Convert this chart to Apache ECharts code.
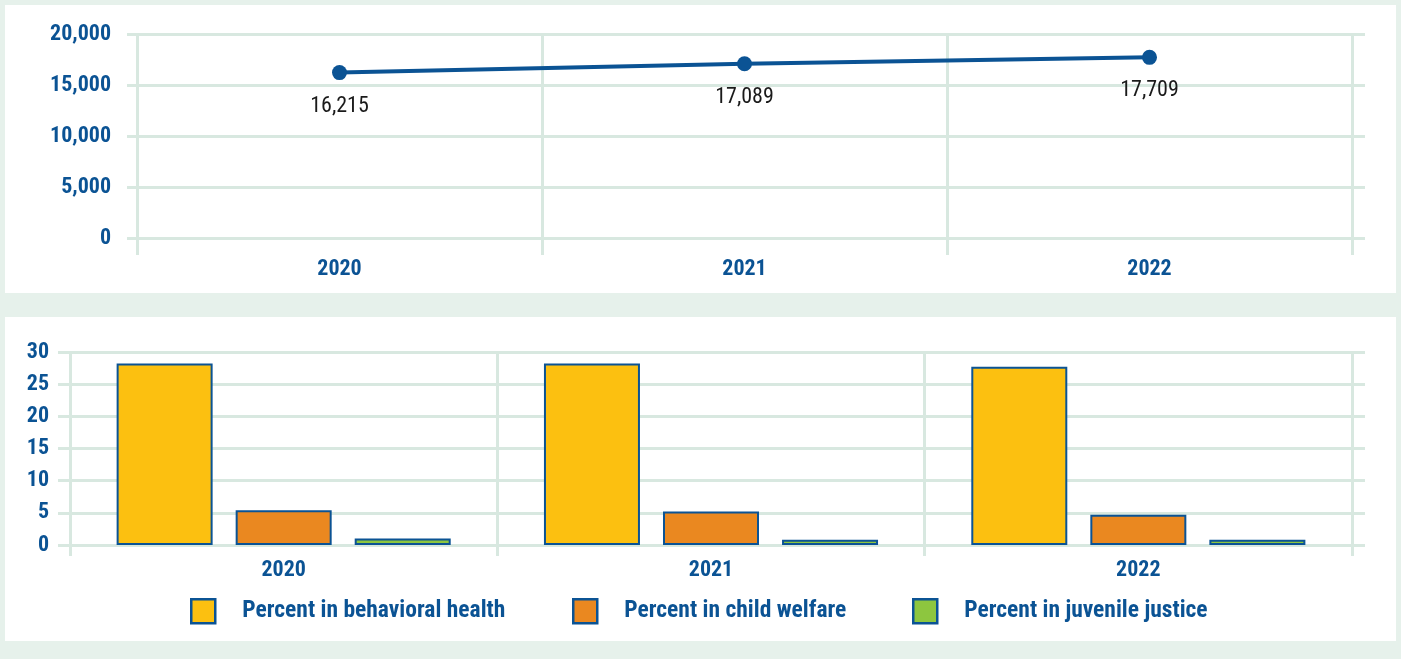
<!DOCTYPE html>
<html>
<head>
<meta charset="utf-8">
<script src="https://cdn.jsdelivr.net/npm/echarts@6/dist/echarts.min.js"></script>
<style>
html,body{margin:0;padding:0;background:#e6f1eb;}
#c{width:1401px;height:659px;}
</style>
</head>
<body>
<div id="c"></div>
<script>
// ---- data ----
const years = ['2020', '2021', '2022'];
const totalYouth = [16215, 17089, 17709];
const behavioralHealth = [28.2, 28.2, 27.7];
const childWelfare = [5.4, 5.2, 4.7];
const juvenileJustice = [1.0, 0.8, 0.8];
const seriesNames = ['Percent in behavioral health', 'Percent in child welfare', 'Percent in juvenile justice'];

const BLUE = '#0b5394';
const GRID = '#d8e8e0';
const FONT = "'Liberation Sans Narrow', 'Roboto Condensed', Roboto, 'Noto Sans', sans-serif";
const fmt = v => String(v).replace(/\B(?=(\d{3})+(?!\d))/g, ',');

const chart = echarts.init(document.getElementById('c'), null, {renderer: 'canvas'});

function catAxis(gi, pos, tickLen, showLabel, margin) {
  return {
    type: 'category', gridIndex: gi, position: pos, data: years, boundaryGap: true,
    axisLine: {show: false},
    axisTick: {show: true, length: tickLen, lineStyle: {color: GRID, width: 3}},
    splitLine: {show: pos === 'bottom', lineStyle: {color: GRID, width: 3}},
    axisLabel: {show: showLabel, color: BLUE, fontWeight: 'bold', fontSize: 22, fontFamily: FONT, margin: margin}
  };
}
function valAxis(gi, pos, max, interval, tickLen, showLabel, margin) {
  return {
    type: 'value', gridIndex: gi, position: pos, min: 0, max: max, interval: interval,
    axisLine: {show: false},
    axisTick: {show: true, length: tickLen, lineStyle: {color: GRID, width: 3}},
    splitLine: {show: pos === 'left', lineStyle: {color: GRID, width: 3}},
    axisLabel: {show: showLabel, color: BLUE, fontWeight: 'bold', fontSize: 22, fontFamily: FONT, margin: margin,
      formatter: v => fmt(v)}
  };
}

const barColors = ['#fcc010', '#ea8820', '#8dc63f'];
const barData = [behavioralHealth, childWelfare, juvenileJustice];
const legendLefts = [190, 572, 912];

const option = {
  animation: false,
  backgroundColor: '#e6f1eb',
  graphic: [
    {type: 'rect', shape: {x: 5, y: 5, width: 1391, height: 288}, style: {fill: '#ffffff'}, z: -10},
    {type: 'rect', shape: {x: 5, y: 317, width: 1391, height: 324}, style: {fill: '#ffffff'}, z: -10}
  ],
  grid: [
    {left: 137, top: 34, width: 1215, height: 204},
    {left: 70, top: 352, width: 1282, height: 193}
  ],
  xAxis: [
    catAxis(0, 'bottom', 17, true, 20),
    catAxis(0, 'top', 17, false, 8),
    catAxis(1, 'bottom', 11, true, 14),
    catAxis(1, 'top', 10, false, 8)
  ],
  yAxis: [
    valAxis(0, 'left', 20000, 5000, 10, true, 26),
    valAxis(0, 'right', 20000, 5000, 13, false, 8),
    valAxis(1, 'left', 30, 5, 12, true, 21),
    valAxis(1, 'right', 30, 5, 13, false, 8)
  ],
  legend: seriesNames.map((n, i) => ({
    data: [n], left: legendLefts[i], top: 598, orient: 'horizontal', padding: 0,
    icon: 'rect', itemWidth: 24, itemHeight: 24,
    itemStyle: {borderColor: BLUE, borderWidth: 2.5},
    textStyle: {color: BLUE, fontWeight: 'bold', fontSize: 23.5, fontFamily: FONT, padding: [0, 0, 0, 22]},
    selectedMode: false
  })),
  series: [
    {
      type: 'line', name: 'Total', xAxisIndex: 0, yAxisIndex: 0, data: totalYouth,
      symbol: 'circle', symbolSize: 15,
      lineStyle: {color: BLUE, width: 4}, itemStyle: {color: BLUE},
      label: {show: true, position: 'bottom', distance: 15, color: '#1a1a1a', fontSize: 22, fontFamily: FONT,
        formatter: p => fmt(p.value)}
    }
  ].concat(seriesNames.map((n, i) => ({
    type: 'bar', name: n, xAxisIndex: 2, yAxisIndex: 2, data: barData[i],
    barWidth: 96, barGap: '24%',
    itemStyle: {color: barColors[i], borderColor: BLUE, borderWidth: 2}
  })))
};
chart.setOption(option);
</script>
</body>
</html>
